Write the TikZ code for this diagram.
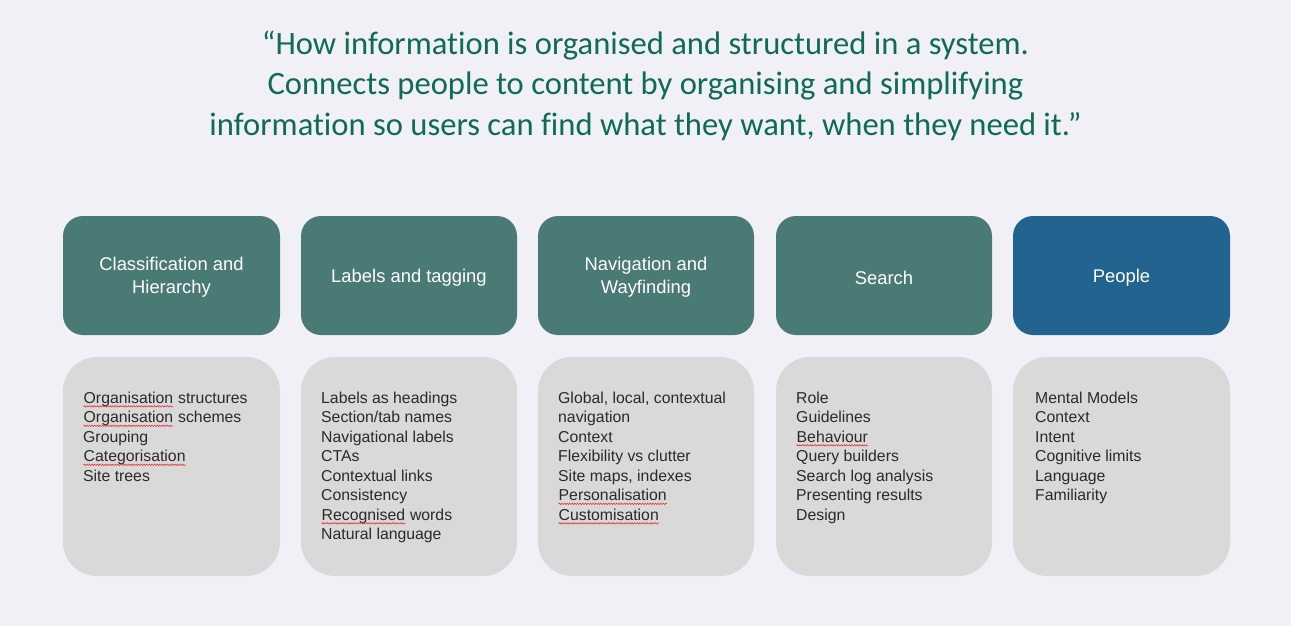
\documentclass[tikz,border=0pt]{standalone}
\usepackage{fontspec}
\usetikzlibrary{decorations.pathmorphing}
\setmainfont{Liberation Sans}
\newfontfamily\titlefont[Ligatures=NoCommon]{Carlito}
\definecolor{bg}{HTML}{F1F0F6}
\definecolor{teal}{HTML}{4A7A76}
\definecolor{peopleblue}{HTML}{236390}
\definecolor{lightgray}{HTML}{D9D9D9}
\definecolor{titlegreen}{HTML}{0E6B56}
\definecolor{bodytext}{HTML}{2A2A2A}
\definecolor{spellred}{HTML}{E8343C}
\tikzset{
  headbox/.style={fill=teal, rounded corners=20pt, draw=none},
  peoplebox/.style={fill=peopleblue, rounded corners=20pt, draw=none},
  bodybox/.style={fill=lightgray, rounded corners=34pt, draw=none},
  headtext/.style={text=white, align=center, yshift=-2pt, font=\fontsize{18.4}{23}\selectfont},
  bodylist/.style={text=bodytext, align=left, anchor=north west, inner sep=0pt, font=\fontsize{15.8}{19.5}\selectfont},
  titletext/.style={text=titlegreen, font=\titlefont\fontsize{32.6}{40}\selectfont, anchor=base, inner sep=0pt},
  spellwave/.style={draw=spellred, line width=0.6pt, decorate, decoration={snake, amplitude=0.7pt, segment length=2.6pt}}
}
\newcommand\spell[1]{\tikz[baseline=0pt,x=1pt,y=1pt]{\node[inner sep=0pt,anchor=base] (sw) at (0,0) {#1};\path[spellwave] ([yshift=-3.2pt]sw.base west) -- ([yshift=-3.2pt]sw.base east);}}
\begin{document}
\begin{tikzpicture}[x=1pt,y=-1pt]
\fill[bg] (0,0) rectangle (1291,626);
\useasboundingbox (0,0) rectangle (1291,626);

\node[titletext] (t1) at (645.5,55) {“How information is organised and structured in a system.};
\node[titletext] (t2) at (645.5,95) {Connects people to content by organising and simplifying};
\node[titletext] (t3) at (645.5,135) {information so users can find what they want, when they need it.”};

% header boxes
\path[headbox] (63,216) rectangle (280,335) node[headtext, midway] (h1) {Classification and\\Hierarchy};
\path[headbox] (301,216) rectangle (517,335) node[headtext, midway] (h2) {Labels and tagging};
\path[headbox] (538,216) rectangle (754,335) node[headtext, midway] (h3) {Navigation and\\Wayfinding};
\path[headbox] (776,216) rectangle (992,335) node[headtext, midway] (h4) {Search};
\path[peoplebox] (1013,216) rectangle (1230,335) node[headtext, midway] (h5) {People};

% body boxes
\path[bodybox] (63,357) rectangle (280,576);
\path[bodybox] (301,357) rectangle (517,576);
\path[bodybox] (538,357) rectangle (754,576);
\path[bodybox] (776,357) rectangle (992,576);
\path[bodybox] (1013,357) rectangle (1230,576);

\node[bodylist] (b1) at (83,391.5) {\spell{Organisation} structures\\\spell{Organisation} schemes\\Grouping\\\spell{Categorisation}\\Site trees};
\node[bodylist] (b2) at (321,391.5) {Labels as headings\\Section/tab names\\Navigational labels\\CTAs\\Contextual links\\Consistency\\\spell{Recognised} words\\Natural language};
\node[bodylist] (b3) at (558,391.5) {Global, local, contextual\\navigation\\Context\\Flexibility vs clutter\\Site maps, indexes\\\spell{Personalisation}\\\spell{Customisation}};
\node[bodylist] (b4) at (796,391.5) {Role\\Guidelines\\\spell{Behaviour}\\Query builders\\Search log analysis\\Presenting results\\Design};
\node[bodylist] (b5) at (1035,391.5) {Mental Models\\Context\\Intent\\Cognitive limits\\Language\\Familiarity};
\end{tikzpicture}
\end{document}
